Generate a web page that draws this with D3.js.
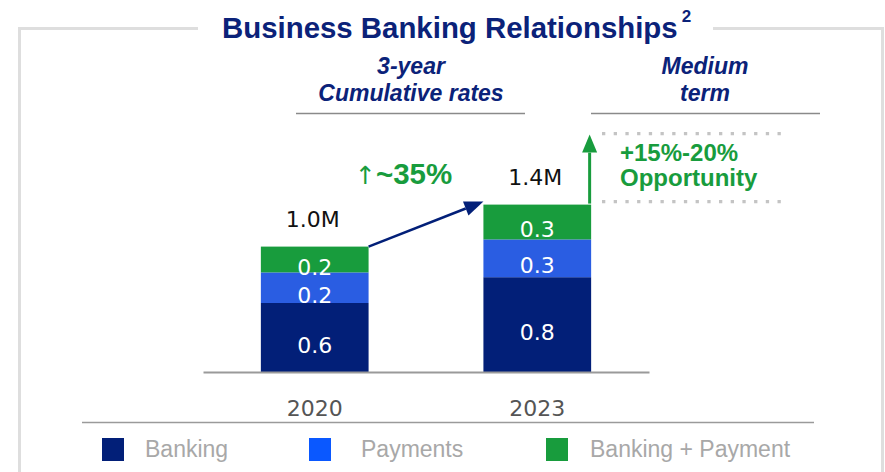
<!DOCTYPE html>
<html>
<head>
<meta charset="utf-8">
<script src="https://cdn.jsdelivr.net/npm/d3@7"></script>
<style>
  body { margin: 0; background: #fff; }
  svg { display: block; }
</style>
</head>
<body>
<svg id="chart"></svg>
<script>
    // chart data
    const years = ["2020", "2023"];
    const banking = [0.575, 0.79];
    const payments = [0.255, 0.315];
    const bankPay = [0.215, 0.29];
    const bankingLabels = ["0.6", "0.8"];
    const paymentsLabels = ["0.2", "0.3"];
    const bankPayLabels = ["0.2", "0.3"];
    const totalLabels = ["1.0M", "1.4M"];
    const seriesNames = ["Banking", "Payments", "Banking + Payment"];
    const growthText = "~35%";
    const opportunityText = ["+15%-20%", "Opportunity"];

    const width = 885, height = 472;
    const navy = "#021f78", blue = "#2a5de2", green = "#189c3d";
    const legendColors = ["#021f78", "#0a58ff", "#189c3d"];

    const svg = d3.select("#chart").attr("width", width).attr("height", height);

    // frame around the chart with a gap for the title
    const frame = svg.append("g").attr("fill", "none").attr("stroke", "#dedede").attr("stroke-width", 3);
    frame.append("path").attr("d", "M198,28.5H19.5V472");
    frame.append("path").attr("d", "M713,28.5H882.5V472");

    // title + footnote marker, the marker placed right after the measured title
    const titleText = svg.append("text")
        .attr("x", 222).attr("y", 38)
        .attr("font-family", "Liberation Sans, Arial, sans-serif")
        .attr("font-weight", "bold").attr("font-size", 29.4)
        .attr("fill", "#0b2279")
        .text("Business Banking Relationships");
    const titleEnd = 222 + titleText.node().getComputedTextLength();
    svg.append("text")
        .attr("x", titleEnd + 4).attr("y", 22)
        .attr("font-family", "Liberation Sans, Arial, sans-serif")
        .attr("font-weight", "bold").attr("font-size", 17)
        .attr("fill", "#0b2279")
        .text("2");

    // column headers
    const headers = [
        { cx: 411, lines: ["3-year", "Cumulative rates"], x1: 296, x2: 525 },
        { cx: 705, lines: ["Medium", "term"], x1: 591, x2: 820 }
    ];
    headers.forEach(h => {
        h.lines.forEach((t, i) => {
            svg.append("text")
                .attr("x", h.cx).attr("y", 74 + i * 27)
                .attr("text-anchor", "middle")
                .attr("font-family", "Liberation Sans, Arial, sans-serif")
                .attr("font-weight", "bold").attr("font-style", "italic")
                .attr("font-size", 23).attr("fill", "#0b2279")
                .text(t);
        });
        svg.append("line")
            .attr("x1", h.x1).attr("x2", h.x2).attr("y1", 113.5).attr("y2", 113.5)
            .attr("stroke", "#8a8a8a").attr("stroke-width", 1.5);
    });

    // scales
    const x = d3.scaleBand().domain(years).range([203, 649]).paddingInner(0.516).paddingOuter(0.26);
    const y = d3.scaleLinear().domain([0, 1.4]).range([372, 204]);

    const rows = years.map((yr, i) => ({ year: yr, banking: banking[i], payments: payments[i], bankPay: bankPay[i] }));
    const keys = ["banking", "payments", "bankPay"];
    const colors = { banking: navy, payments: blue, bankPay: green };
    const labels = { banking: bankingLabels, payments: paymentsLabels, bankPay: bankPayLabels };
    const stacked = d3.stack().keys(keys)(rows);
    const totals = rows.map(r => r.banking + r.payments + r.bankPay);

    const layer = svg.append("g").selectAll("g")
        .data(stacked)
        .join("g")
        .attr("fill", d => colors[d.key]);

    layer.selectAll("rect")
        .data(d => d)
        .join("rect")
        .attr("x", d => x(d.data.year))
        .attr("y", d => y(d[1]))
        .attr("width", x.bandwidth())
        .attr("height", d => y(d[0]) - y(d[1]));

    // segment value labels
    stacked.forEach(s => {
        svg.append("g").selectAll("text")
            .data(s)
            .join("text")
            .attr("x", d => x(d.data.year) + x.bandwidth() / 2)
            .attr("y", d => (y(d[0]) + y(d[1])) / 2 + 15)
            .attr("text-anchor", "middle")
            .attr("font-family", "DejaVu Sans, sans-serif")
            .attr("font-size", 22).attr("fill", "#fff")
            .text((d, i) => labels[s.key][i]);
    });

    // totals above bars
    svg.append("g").selectAll("text")
        .data(years)
        .join("text")
        .attr("x", d => x(d) + x.bandwidth() / 2 - 2)
        .attr("y", (d, i) => y(totals[i]) - 20)
        .attr("text-anchor", "middle")
        .attr("font-family", "DejaVu Sans, sans-serif")
        .attr("font-size", 22).attr("fill", "#111")
        .text((d, i) => totalLabels[i]);

    // x axis with baseline
    const axis = svg.append("g")
        .attr("transform", "translate(0,372)")
        .call(d3.axisBottom(x).tickSize(0).tickSizeOuter(0).tickPadding(28));
    axis.select(".domain").attr("stroke", "#9a9a9a").attr("stroke-width", 2);
    axis.selectAll("text")
        .attr("font-family", "DejaVu Sans, sans-serif")
        .attr("font-size", 22).attr("fill", "#555");

    // growth arrow between bar tops
    const ax1 = x(years[0]) + x.bandwidth(), ay1 = y(totals[0]);
    const ax2 = x(years[1]), ay2 = y(totals[1]) - 3;
    const ang = Math.atan2(ay2 - ay1, ax2 - ax1);
    const headLen = 19, headW = 7.5;
    const bx = ax2 - headLen * Math.cos(ang), by = ay2 - headLen * Math.sin(ang);
    svg.append("line")
        .attr("x1", ax1).attr("y1", ay1).attr("x2", bx).attr("y2", by)
        .attr("stroke", navy).attr("stroke-width", 2.5);
    svg.append("path")
        .attr("d", `M${ax2},${ay2}L${bx + headW * Math.sin(ang)},${by - headW * Math.cos(ang)}L${bx - headW * Math.sin(ang)},${by + headW * Math.cos(ang)}Z`)
        .attr("fill", navy);

    const growth = svg.append("text")
        .attr("x", 355).attr("y", 184)
        .attr("font-family", "Liberation Sans, Arial, sans-serif")
        .attr("font-size", 29.5).attr("fill", green);
    growth.append("tspan").attr("font-family", "DejaVu Sans, sans-serif").attr("font-size", 25).text("↑");
    growth.append("tspan").attr("font-weight", "bold").text(growthText);

    // medium term opportunity
    const gx = x(years[1]) + x.bandwidth() - 1.5;
    const barTop = y(totals[1]);
    svg.append("line")
        .attr("x1", gx).attr("x2", gx).attr("y1", barTop - 1).attr("y2", barTop - 52)
        .attr("stroke", green).attr("stroke-width", 3);
    svg.append("path")
        .attr("d", `M${gx},${barTop - 70}L${gx + 7.5},${barTop - 52}L${gx - 7.5},${barTop - 52}Z`)
        .attr("fill", green);

    [barTop - 71, barTop - 3].forEach(yy => {
        svg.append("line")
            .attr("x1", 602).attr("x2", 787).attr("y1", yy).attr("y2", yy)
            .attr("stroke", "#c4c4c4").attr("stroke-width", 3.3)
            .attr("stroke-dasharray", "3.3,8.4");
    });

    opportunityText.forEach((t, i) => {
        svg.append("text")
            .attr("x", 620).attr("y", 161 + i * 25)
            .attr("font-family", "Liberation Sans, Arial, sans-serif")
            .attr("font-weight", "bold").attr("font-size", 24)
            .attr("fill", green)
            .text(t);
    });

    // legend
    svg.append("line")
        .attr("x1", 82).attr("x2", 814).attr("y1", 422.5).attr("y2", 422.5)
        .attr("stroke", "#9a9a9a").attr("stroke-width", 1.5);

    const legendX = [102, 309, 546];
    const legendTextX = [145, 361, 590];
    const legend = svg.append("g").selectAll("g")
        .data(seriesNames)
        .join("g");
    legend.append("rect")
        .attr("x", (d, i) => legendX[i]).attr("y", 438)
        .attr("width", 22).attr("height", 23)
        .attr("fill", (d, i) => legendColors[i]);
    legend.append("text")
        .attr("x", (d, i) => legendTextX[i]).attr("y", 457)
        .attr("font-family", "Liberation Sans, Arial, sans-serif")
        .attr("font-size", 23).attr("fill", "#a8a8a8")
        .text(d => d);
</script>
</body>
</html>
